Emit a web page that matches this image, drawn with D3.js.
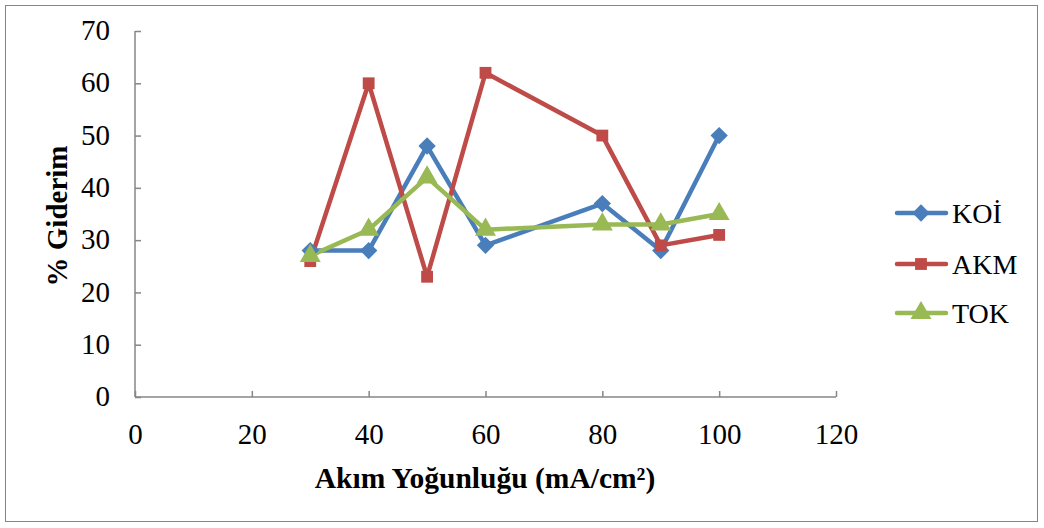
<!DOCTYPE html>
<html><head><meta charset="utf-8">
<script src="https://cdn.jsdelivr.net/npm/d3@7"></script>
<style>body{margin:0;background:#fff}svg{display:block}</style>
</head><body>
<svg id="c" width="1044" height="528" font-family="Liberation Serif"></svg>
<script>
const xValues = [30, 40, 50, 60, 80, 90, 100];
const koi = [28, 28, 48, 29, 37, 28, 50];
const akm = [26, 60, 23, 62, 50, 29, 31];
const tok = [27, 32, 42, 32, 33, 33, 35];
const seriesNames = ["KOİ", "AKM", "TOK"];
const xTicks = [0, 20, 40, 60, 80, 100, 120];
const yTicks = [0, 10, 20, 30, 40, 50, 60, 70];
const FONT = "Liberation Serif";

const svg = d3.select("#c");
svg.append("rect").attr("x",5.5).attr("y",5.5).attr("width",1032).attr("height",516)
  .attr("fill","#fff").attr("stroke","#868686").attr("stroke-width",1);

const x = d3.scaleLinear().domain([0,120]).range([135,836]);
const y = d3.scaleLinear().domain([0,70]).range([397,31]);
const axisColor = "#868686";

const gx = svg.append("g").attr("transform",`translate(0,${y(0)})`)
  .call(d3.axisBottom(x).tickValues(xTicks).tickSize(-6).tickPadding(26));
const gy = svg.append("g").attr("transform",`translate(${x(0)},0)`)
  .call(d3.axisLeft(y).tickValues(yTicks).tickSize(-6).tickPadding(25));
[gx,gy].forEach(g=>{
  g.attr("font-family",FONT);
  g.selectAll("path,line").attr("stroke",axisColor).attr("stroke-width",1.5);
  g.selectAll("text").attr("font-size",29).attr("font-family",FONT).attr("fill","#000");
});
gy.selectAll(".tick text").attr("dy","0.3em");
gy.select(".domain").attr("d",`M0,${y(70)}H0V${y(0)}`);
gx.select(".domain").attr("d",`M${x(0)},0H${x(120)}`);

svg.append("text").attr("x",485).attr("y",488).attr("text-anchor","middle").attr("font-family",FONT)
  .attr("font-size",29.5).attr("font-weight","bold").text("Akım Yoğunluğu (mA/cm²)");
svg.append("text").attr("transform","translate(67,216) rotate(-90)").attr("text-anchor","middle").attr("font-family",FONT)
  .attr("font-size",29).attr("font-weight","bold").text("% Giderim");

const colors = ["#4a7ebb","#be4b48","#98b954"];
const data = [koi, akm, tok];
const diamond = { draw(ctx, size){ const r = Math.sqrt(size/2); ctx.moveTo(0,-r); ctx.lineTo(r,0); ctx.lineTo(0,r); ctx.lineTo(-r,0); ctx.closePath(); } };
const shapes = [diamond, d3.symbolSquare, d3.symbolTriangle];
const sizes = [150, 140, 190];
const line = d3.line().x((d,i)=>x(xValues[i])).y(d=>y(d));

data.forEach((vals,s)=>{
  svg.append("path").datum(vals).attr("d",line).attr("fill","none")
    .attr("stroke",colors[s]).attr("stroke-width",4.5).attr("stroke-linejoin","round");
});
data.forEach((vals,s)=>{
  svg.append("g").selectAll("path").data(vals).join("path")
    .attr("transform",(d,i)=>`translate(${x(xValues[i])},${y(d)})`)
    .attr("d",d3.symbol().type(shapes[s]).size(sizes[s])).attr("fill",colors[s]);
});

const legY = [213, 264, 313];
seriesNames.forEach((n,s)=>{
  const g = svg.append("g").attr("transform",`translate(0,${legY[s]})`);
  g.append("line").attr("x1",897).attr("x2",946).attr("y1",0).attr("y2",0)
    .attr("stroke",colors[s]).attr("stroke-width",4.5).attr("stroke-linecap","round");
  g.append("path").attr("transform","translate(921,0)").attr("d",d3.symbol().type(shapes[s]).size(sizes[s])).attr("fill",colors[s]);
  g.append("text").attr("x",952).attr("y",10).attr("font-size",28).attr("font-family",FONT).text(n);
});
</script>
</body></html>
